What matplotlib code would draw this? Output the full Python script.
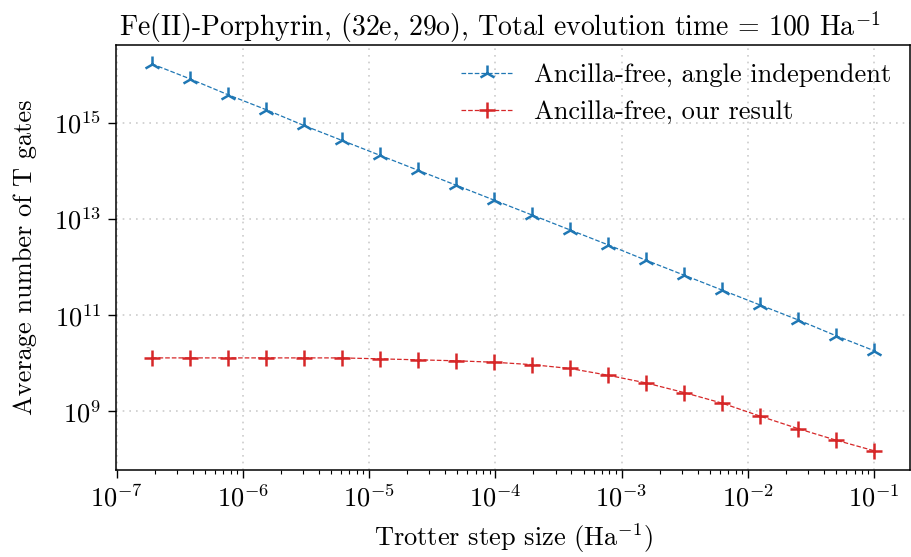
import numpy as np
import matplotlib
matplotlib.use("Agg")
import matplotlib.pyplot as plt
from matplotlib.ticker import FixedLocator, NullLocator, NullFormatter

plt.rcParams['font.family'] = 'serif'
plt.rcParams['font.serif'] = ['cmr10']
plt.rcParams['mathtext.fontset'] = 'cm'
plt.rcParams['axes.unicode_minus'] = False
plt.rcParams['axes.formatter.use_mathtext'] = True
plt.rcParams['font.size'] = 19

# Trotter step sizes: 0.1 halved 19 times
step = 0.1 / 2.0 ** np.arange(19, -1, -1)

# log10 of average T-gate counts
log_t_angle_indep = [16.22, 15.91, 15.58, 15.27, 14.94, 14.63, 14.32, 14.01, 13.70, 13.39,
                     13.08, 12.77, 12.46, 12.14, 11.83, 11.52, 11.21, 10.90, 10.57, 10.26]
log_t_our = [10.11, 10.11, 10.11, 10.11, 10.11, 10.11, 10.09, 10.07, 10.05, 10.02,
             9.97, 9.89, 9.75, 9.59, 9.39, 9.17, 8.90, 8.64, 8.40, 8.18]
x_ticks = [1e-7, 1e-6, 1e-5, 1e-4, 1e-3, 1e-2, 1e-1]
y_ticks = [1e9, 1e11, 1e13, 1e15]

t_angle_indep = 10.0 ** np.array(log_t_angle_indep)
t_our = 10.0 ** np.array(log_t_our)

fig = plt.figure(figsize=(9.12, 5.57), dpi=100)
ax = fig.add_axes([0.127, 0.156, 0.871, 0.764])

ax.plot(step, t_angle_indep, ls='--', lw=0.9, color='#1f77b4', marker='2',
        ms=12, mew=1.8, label='Ancilla-free, angle independent')
ax.plot(step, t_our, ls='--', lw=0.9, color='#d62728', marker='+',
        ms=12, mew=1.8, label='Ancilla-free, our result')

ax.set_xscale('log')
ax.set_yscale('log')
ax.xaxis.set_major_locator(FixedLocator(x_ticks))
minor_x = [m * t for t in x_ticks[:-1] for m in range(2, 10)] + [2e-1]
ax.xaxis.set_minor_locator(FixedLocator(minor_x))
ax.xaxis.set_minor_formatter(NullFormatter())
ax.yaxis.set_major_locator(FixedLocator(y_ticks))
ax.yaxis.set_minor_locator(NullLocator())
ax.tick_params(which='major', length=5.5, width=1.0, pad=5)
ax.tick_params(which='minor', length=3, width=0.8)
for s in ax.spines.values():
    s.set_linewidth(1.1)
ax.grid(True, which='major', ls=(0, (1, 3)), color='#cccccc', lw=1.2)
ax.set_xlabel(r'Trotter step size (Ha$^{-1}$)', labelpad=7)
ax.set_ylabel('Average number of T gates', labelpad=12)
ax.set_title(r'Fe(II)-Porphyrin, (32e, 29o), Total evolution time = 100 Ha$^{-1}$',
             fontsize=20, x=0.483)
ax.legend(loc='upper right', frameon=False, borderaxespad=0.3, handletextpad=0.8)

fig.savefig('out.png', dpi=100)
